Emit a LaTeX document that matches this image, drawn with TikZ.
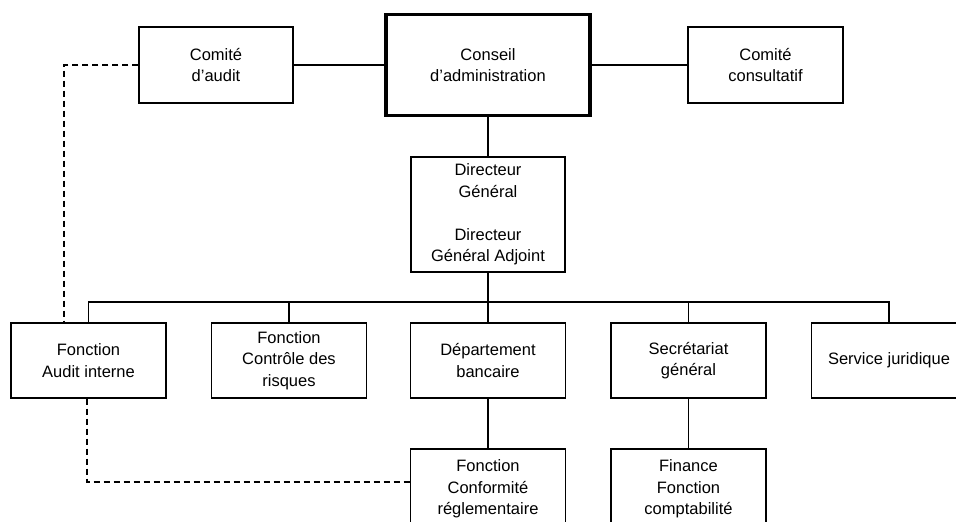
\documentclass[tikz,border=0pt]{standalone}
\usepackage{fontspec}
\setmainfont{Liberation Sans}
\begin{document}
\begin{tikzpicture}[x=1pt,y=-1pt,
  box/.style={draw, line width=1.4pt, inner sep=0pt, align=center,
    minimum width=155pt, minimum height=75pt,
    font=\fontsize{16.5}{21.5}\selectfont},
  mainbox/.style={box, line width=3.5pt, minimum width=204pt, minimum height=101pt},
  link/.style={line width=1.4pt},
  dlink/.style={line width=1.4pt, dash pattern=on 6pt off 4pt}]
\useasboundingbox (0,0) rectangle (956,522);
\clip (0,0) rectangle (956,522);
\node[box, minimum width=154pt, minimum height=76pt] (auditc) at (216,65) {Comité\\d’audit};
\node[mainbox] (conseil) at (488,65) {Conseil\\d’administration};
\node[box, minimum height=76pt] (consult) at (765.5,65) {Comité\\consultatif};
\node[box, minimum width=154pt, minimum height=115pt] (dg) at (488,214.5) {Directeur\\Général\\[21.5pt]Directeur\\Général Adjoint};
\node[box] (auditi) at (88.5,360.5) {Fonction\\Audit interne};
\node[box] (ctrl) at (289,360.5) {Fonction\\Contrôle des\\risques};
\node[box] (dept) at (488,360.5) {Département\\bancaire};
\node[box] (secr) at (688.5,360.5) {Secrétariat\\général};
\node[box] (juri) at (889,360.5) {Service juridique};
\node[box, minimum height=80pt] (conf) at (488,489) {Fonction\\Conformité\\réglementaire};
\node[box, minimum height=80pt] (fin) at (688.5,489) {Finance\\Fonction\\comptabilité};
\coordinate (bus) at (488,302);
\draw[link] (auditc.east) -- (conseil.west);
\draw[link] (conseil.east) -- (consult.west);
\draw[link] (conseil.south) -- (dg.north);
\draw[link] (dg.south) -- (bus);
\foreach \n in {auditi,ctrl,dept,secr,juri}
  \draw[link] (bus) -| (\n.north);
\draw[link] (dept.south) -- (conf.north);
\draw[link] (secr.south) -- (fin.north);
\draw[dlink] (auditc.west) -| ([xshift=-24.5pt]auditi.north);
\draw[dlink] ([xshift=-1.5pt]auditi.south) |- ([yshift=7pt]conf.west);
\end{tikzpicture}
\end{document}
